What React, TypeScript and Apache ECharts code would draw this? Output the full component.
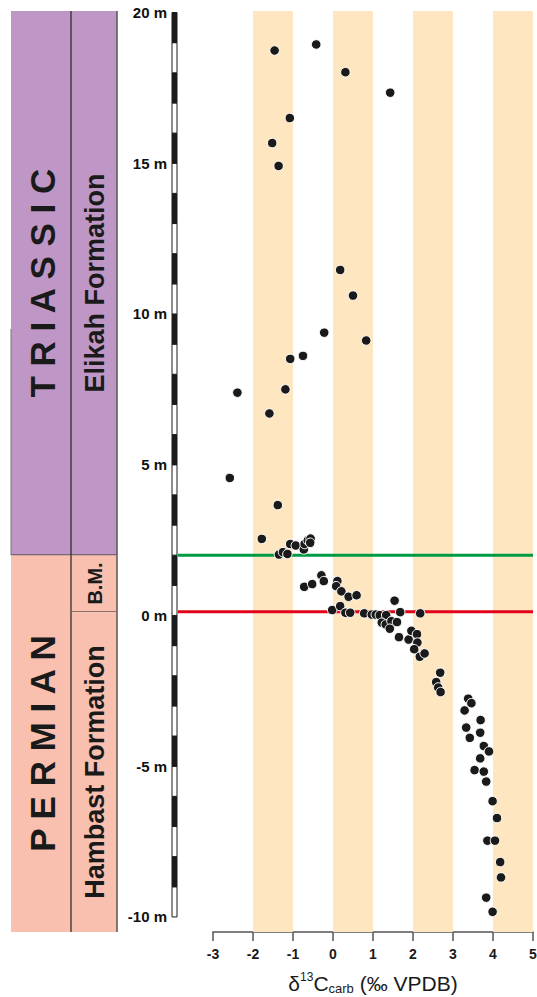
import React, { useEffect, useRef } from "react";
import * as echarts from "echarts";

// δ13C (‰ VPDB) and stratigraphic height (m) of each sample
const d13C = [
  -1.46, -0.42, 0.31, 1.43, -1.08, -1.52, -1.36,
  0.18, 0.5, -0.22, 0.83, -0.75, -1.07, -2.39, -1.19,
  -1.59, -2.58, -1.38, -1.78,
  -1.35, -1.25, -1.14, -1.07, -0.93, -0.73, -0.71, -0.63, -0.56, -0.57,
  -0.72, -0.52, -0.29, -0.23, 0.11, 0.08, 0.21, 0.39, 0.59,
  -0.02, 0.18, 0.31, 0.43, 0.78, 0.97, 1.07, 1.17, 1.33, 1.54, 1.68, 2.18,
  1.22, 1.32, 1.46, 1.6, 1.42, 1.65, 1.89, 1.96, 2.1, 2.11, 2.03, 2.17, 2.29,
  2.68, 2.58, 2.63, 2.69,
  3.38, 3.46, 3.29, 3.69, 3.33, 3.68, 3.42, 3.77, 3.9, 3.68, 3.54, 3.77, 3.83,
  3.99, 4.1, 3.86, 4.05, 4.18, 4.2, 3.83, 3.99,
];
const heightM = [
  18.74, 18.94, 18.02, 17.34, 16.5, 15.67, 14.91,
  11.46, 10.61, 9.38, 9.12, 8.61, 8.51, 7.39, 7.5,
  6.7, 4.56, 3.66, 2.54,
  2.02, 2.1, 2.04, 2.37, 2.32, 2.19, 2.37, 2.49, 2.55, 2.41,
  0.95, 1.04, 1.33, 1.14, 1.14, 0.97, 0.8, 0.62, 0.67,
  0.18, 0.31, 0.09, 0.09, 0.07, 0.03, 0.03, 0.01, 0.01, 0.49, 0.11, 0.07,
  -0.24, -0.3, -0.19, -0.22, -0.44, -0.72, -0.8, -0.51, -0.62, -0.9, -1.12, -1.37, -1.26,
  -1.9, -2.21, -2.39, -2.54,
  -2.76, -2.91, -3.15, -3.47, -3.72, -3.89, -4.06, -4.33, -4.51, -4.74, -5.13, -5.18, -5.51,
  -6.16, -6.72, -7.47, -7.47, -8.18, -8.69, -9.36, -9.83,
];

const xTickMin = -3;
const xTickMax = 5;
const yMin = -10.5;
const yMax = 20.05;
const heightLabels = [-10, -5, 0, 5, 10, 15, 20];

// shaded δ13C bands
const bandRanges = [
  [-2, -1],
  [0, 1],
  [2, 3],
  [4, 5],
];

// boundary horizons (m): upper (green) and lower (red)
const boundaryHeights = [2, 0.12];

// scale bar 1-m segments (start heights)
const scaleSegmentStarts = [
  -10, -9, -8, -7, -6, -5, -4, -3, -2, -1, 0, 1, 2, 3, 4, 5, 6, 7, 8, 9,
  10, 11, 12, 13, 14, 15, 16, 17, 18, 19,
];

// stratigraphic units
const periodNames = ["T R I A S S I C", "P E R M I A N"];
const periodBases = [2, yMin];
const periodTops = [yMax, 2];
const formationNames = ["Elikah Formation", "B.M.", "Hambast Formation"];
const formationBases = [2, 0.12, yMin];
const formationTops = [yMax, 2, 0.12];
const edgeLineTop = 9.5;

export default function App() {
  const ref = useRef<HTMLDivElement>(null);

  useEffect(() => {
    if (!ref.current) return;
    const chart = echarts.init(ref.current, null, { renderer: "svg" });
    const FONT = '"Liberation Sans", Arial, sans-serif';
    const purple = "#BF97C6";
    const salmon = "#F9C0B0";

    const unitData: any[] = [];
    periodNames.forEach((n, i) =>
      unitData.push([0, periodBases[i], periodTops[i], 0, i])
    );
    formationNames.forEach((n, i) =>
      unitData.push([1, formationBases[i], formationTops[i], 1, i])
    );

    const option: any = {
      animation: false,
      grid: {
        left: 213,
        right: 4,
        top: 11,
        bottom: 65,
        containLabel: false,
        outerBoundsMode: "none",
      },
      xAxis: {
        type: "value",
        min: xTickMin,
        max: xTickMax,
        interval: 1,
        axisLine: { show: true, onZero: false, lineStyle: { color: "#555", width: 1.5 } },
        axisTick: { show: true, length: 9, lineStyle: { color: "#555", width: 1.5 } },
        splitLine: { show: false },
        axisLabel: {
          color: "#1a1a1a",
          fontWeight: "bold",
          fontSize: 14,
          fontFamily: FONT,
          margin: 15,
        },
        name: "{a|δ}{sup|13}{a|C}{sub|carb}{a| (‰ VPDB)}",
        nameLocation: "middle",
        nameGap: 39,
        nameTextStyle: {
          fontFamily: FONT,
          rich: {
            a: { fontSize: 21, fontFamily: FONT, color: "#1a1a1a", lineHeight: 24, verticalAlign: "middle" },
            sup: { fontSize: 12, fontFamily: FONT, color: "#1a1a1a", lineHeight: 12, verticalAlign: "top" },
            sub: { fontSize: 13, fontFamily: FONT, color: "#1a1a1a", lineHeight: 12, verticalAlign: "bottom" },
          },
        },
      },
      yAxis: {
        type: "value",
        min: yMin,
        max: yMax,
        position: "left",
        offset: 36,
        axisLine: { show: false, onZero: false },
        axisTick: { show: false },
        splitLine: { show: false },
        axisLabel: {
          customValues: heightLabels,
          formatter: (v: number) => `${v} m`,
          color: "#111",
          fontWeight: "bold",
          fontSize: 15,
          fontFamily: FONT,
          margin: 10,
        },
      },
      series: [
        {
          type: "scatter",
          z: 5,
          data: d13C.map((x, i) => [x, heightM[i]]),
          symbol: "circle",
          symbolSize: 9.5,
          itemStyle: { color: "#1a1a1a", borderColor: "#fff", borderWidth: 1, opacity: 1 },
          markArea: {
            silent: true,
            itemStyle: { color: "#FEE7C0" },
            data: bandRanges.map(([a, b]) => [{ xAxis: a }, { xAxis: b }]),
          },
        },
        {
          type: "custom",
          z: 3,
          clip: false,
          silent: true,
          data: boundaryHeights.map((h, i) => [xTickMax, h, i]),
          encode: { x: 0, y: 1 },
          renderItem: (params: any, api: any) => {
            const gl = params.coordSys.x;
            const p = api.coord([xTickMax, api.value(1)]);
            const idx = api.value(2);
            return {
              type: "line",
              shape: { x1: gl - 35, y1: p[1], x2: p[0], y2: p[1] },
              style: { stroke: idx === 0 ? "#009A44" : "#E2001A", lineWidth: 3 },
            };
          },
        },
        {
          type: "custom",
          z: 4,
          clip: false,
          silent: true,
          data: scaleSegmentStarts.map((s) => [xTickMin, s]),
          encode: { x: 0, y: 1 },
          renderItem: (params: any, api: any) => {
            const gl = params.coordSys.x;
            const s = api.value(1);
            const top = api.coord([xTickMin, s + 1])[1];
            const bot = api.coord([xTickMin, s])[1];
            const black = Math.abs(s) % 2 === 1;
            return {
              type: "rect",
              shape: { x: gl - 41, y: top, width: 5, height: bot - top },
              style: { fill: black ? "#1a1a1a" : "#fff", stroke: "#1a1a1a", lineWidth: 1 },
            };
          },
        },
        {
          type: "custom",
          z: 2,
          clip: false,
          silent: true,
          data: unitData,
          encode: { x: 0, y: 1 },
          renderItem: (params: any, api: any) => {
            const gl = params.coordSys.x;
            const col = api.value(0);
            const base = api.value(1);
            const topV = api.value(2);
            const idx = api.value(4);
            const yTop = api.coord([xTickMin, topV])[1];
            const yBot = api.coord([xTickMin, base])[1];
            const x0 = col === 0 ? gl - 202 : gl - 142;
            const w = col === 0 ? 60 : 46;
            const isTri = idx === 0;
            const fill = isTri ? purple : salmon;
            const label = col === 0 ? periodNames[idx] : formationNames[idx];
            let font = `bold 35px ${FONT}`;
            if (col === 1) font = label === "B.M." ? `bold 20px ${FONT}` : `bold 27px ${FONT}`;
            const children: any[] = [
              {
                type: "rect",
                shape: { x: x0, y: yTop, width: w, height: yBot - yTop },
                style: { fill },
              },
              {
                type: "text",
                x: x0 + w / 2 + 1,
                y: (yTop + yBot) / 2,
                rotation: Math.PI / 2,
                style: {
                  text: label,
                  x: 0,
                  y: 0,
                  align: "center",
                  verticalAlign: "middle",
                  font,
                  fill: "#1a1a1a",
                },
              },
            ];
            if (base > yMin) {
              children.push({
                type: "line",
                shape: { x1: x0, y1: yBot, x2: x0 + w, y2: yBot },
                style: { stroke: "#333", lineWidth: 1.2 },
              });
            }
            if (col === 0 && isTri) {
              const yEdge = api.coord([xTickMin, edgeLineTop])[1];
              children.push({
                type: "line",
                shape: { x1: x0, y1: yEdge, x2: x0, y2: yBot },
                style: { stroke: "#777", lineWidth: 1 },
              });
            }
            if (col === 1) {
              children.push({
                type: "line",
                shape: { x1: x0, y1: yTop, x2: x0, y2: yBot },
                style: { stroke: "#222", lineWidth: 1.2 },
              });
              children.push({
                type: "line",
                shape: { x1: x0 + w, y1: yTop, x2: x0 + w, y2: yBot },
                style: { stroke: "#555", lineWidth: 1.5 },
              });
            }
            return { type: "group", children };
          },
        },
      ],
    };
    chart.setOption(option);
    return () => chart.dispose();
  }, []);

  return (
    <div
      ref={ref}
      style={{ position: "fixed", left: 0, top: 0, width: 537, height: 997, background: "#fff" }}
    />
  );
}
